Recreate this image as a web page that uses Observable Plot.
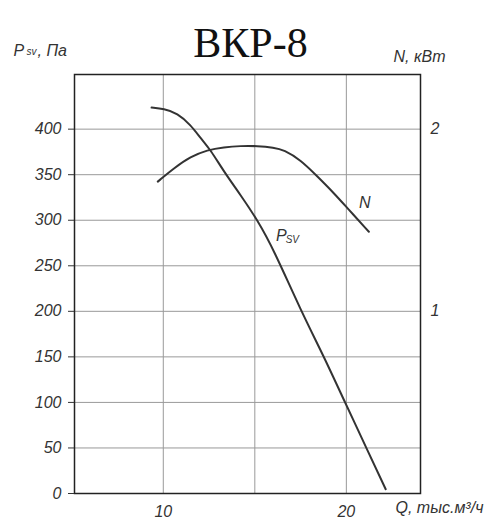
<!DOCTYPE html>
<html>
<head>
<meta charset="utf-8">
<script src="https://cdn.jsdelivr.net/npm/d3@7"></script>
<script src="https://cdn.jsdelivr.net/npm/@observablehq/plot@0.6"></script>
<style>
  body { margin: 0; background: white; }
</style>
</head>
<body>
<div id="chart"></div>
<script>
// Flow rate Q (thousand m3/h) and static pressure P_sv (Pa)
const qP = [9.36, 10.03, 10.77, 11.49, 12.04, 12.58, 13.31, 14.22, 15.14, 16.04, 17.5, 18.78, 19.87, 21.15, 22.15];
const pSv = [423.7, 422.3, 417.6, 404.7, 390.1, 377.3, 353.4, 327.8, 300.3, 267.4, 201.4, 150.1, 102.5, 47.6, 4.7];
// Flow rate Q and power N (kW)
const qN = [9.70, 10.58, 11.49, 12.40, 13.31, 14.22, 15.14, 16.04, 16.59, 17.50, 18.42, 19.33, 20.06, 21.23];
const nKw = [1.712, 1.786, 1.849, 1.886, 1.901, 1.908, 1.908, 1.899, 1.886, 1.831, 1.740, 1.648, 1.566, 1.437];
// Ticks
const pTicks = [0, 50, 100, 150, 200, 250, 300, 350, 400];
const nTicks = [1, 2];
const qTicks = [10, 20];
const qGrid = [10, 15, 20];
const title = "ВКР-8";
const paPerKw = 200; // right axis: 2 kW aligns with 400 Pa

const pData = qP.map((q, i) => ({q, v: pSv[i]}));
const nData = qN.map((q, i) => ({q, v: nKw[i] * paPerKw}));

const font = "Liberation Sans";
const chart = Plot.plot({
  width: 500,
  height: 529,
  marginLeft: 74,
  marginRight: 80,
  marginTop: 74,
  marginBottom: 36,
  x: {domain: [5.15, 24.05]},
  y: {domain: [0, 460]},
  style: {fontFamily: font, fontStyle: "italic", fontSize: "16px", color: "#333", background: "white"},
  marks: [
    Plot.ruleY(pTicks.slice(1), {stroke: "#999", strokeWidth: 1}),
    Plot.ruleX(qGrid, {stroke: "#999", strokeWidth: 1}),
    Plot.frame({stroke: "#222", strokeWidth: 1.5}),
    Plot.axisY(pTicks, {anchor: "left", tickSize: 6, tickPadding: 7, label: null, tickFormat: d => String(d)}),
    Plot.axisY(nTicks.map(n => n * paPerKw), {anchor: "right", tickSize: 0, tickPadding: 10, label: null, tickFormat: d => String(d / paPerKw)}),
    Plot.axisX(qTicks, {anchor: "bottom", tickSize: 0, tickPadding: 12, label: null, tickFormat: d => String(d)}),
    Plot.line(pData, {x: "q", y: "v", curve: "basis", stroke: "#333", strokeWidth: 2}),
    Plot.line(nData, {x: "q", y: "v", curve: "basis", stroke: "#333", strokeWidth: 2}),
    // curve labels
    Plot.text(["N"], {x: 21.0, y: 319, fontSize: 16}),
    Plot.text(["P"], {x: 16.45, y: 283, fontSize: 16}),
    Plot.text(["SV"], {x: 17.05, y: 278, fontSize: 10}),
    // title
    Plot.text([title], {frameAnchor: "top", dx: 3, dy: -47, fontSize: 42, fontFamily: "Liberation Serif", fontStyle: "normal", fill: "#111"}),
    // axis titles
    Plot.text(["P"], {frameAnchor: "top-left", dx: -61, dy: -30, textAnchor: "start", fontSize: 16}),
    Plot.text(["sv"], {frameAnchor: "top-left", dx: -48, dy: -27, textAnchor: "start", fontSize: 10}),
    Plot.text([", Па"], {frameAnchor: "top-left", dx: -37, dy: -30, textAnchor: "start", fontSize: 16}),
    Plot.text(["N, кВт"], {frameAnchor: "top-right", dx: -27, dy: -24, textAnchor: "start", fontSize: 16}),
    Plot.text(["Q, тыс.м³/ч"], {frameAnchor: "bottom-right", dx: -25, dy: 19, textAnchor: "start", fontSize: 16})
  ]
});
document.getElementById("chart").append(chart);
</script>
</body>
</html>
